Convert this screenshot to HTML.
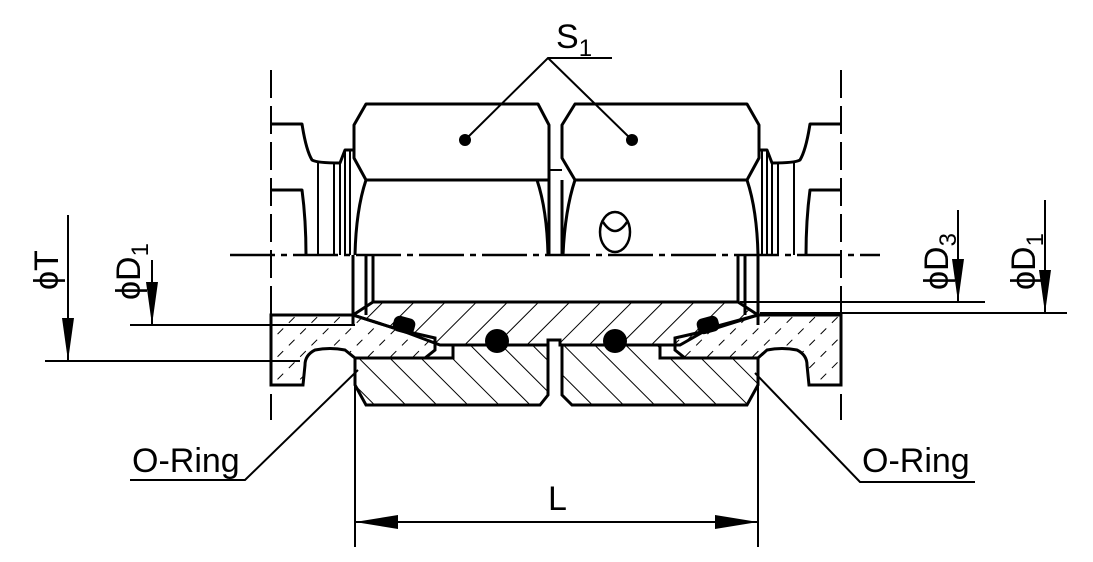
<!DOCTYPE html>
<html><head><style>body{margin:0;background:#fff}svg{display:block}text{font-family:"Liberation Sans",sans-serif}</style></head><body>
<svg width="1093" height="562" viewBox="0 0 1093 562" xmlns="http://www.w3.org/2000/svg">
<defs>
<pattern id="h1" patternUnits="userSpaceOnUse" width="22" height="22" patternTransform="rotate(45)"><line x1="0" y1="0" x2="0" y2="22" stroke="#000" stroke-width="2"/></pattern>
<pattern id="h2" patternUnits="userSpaceOnUse" width="22" height="22" patternTransform="rotate(-45)"><line x1="0" y1="0" x2="0" y2="22" stroke="#000" stroke-width="2"/></pattern>
<pattern id="h3" patternUnits="userSpaceOnUse" width="16" height="16" patternTransform="rotate(45)"><line x1="0" y1="0" x2="0" y2="8" stroke="#000" stroke-width="2"/></pattern>
</defs>
<g fill="none" stroke="#000" stroke-width="3" stroke-linejoin="round">
<line x1="271" y1="70" x2="271" y2="420" stroke-dasharray="28,8" stroke-width="2"/>
<line x1="841" y1="70" x2="841" y2="420" stroke-dasharray="28,8" stroke-width="2"/>
<line x1="230" y1="255" x2="880" y2="255" stroke-dasharray="45,6,6,6" stroke-width="2.5"/>
<path d="M366,104 L538,104 L549,125 L549,180 L537,180 L366,180 L354,158 L354,125 Z"/>
<path d="M366,180 Q356,210 355,255 M537,180 Q547,210 548,255"/>
<path d="M575,104 L747,104 L759,125 L759,158 L747,180 L575,180 L562,158 L562,125 Z"/>
<path d="M575,180 Q565,210 563,255 M747,180 Q757,210 758,255"/>
<line x1="549" y1="170" x2="562" y2="170" stroke-width="2"/>
<line x1="549" y1="180" x2="549" y2="255"/><line x1="562" y1="180" x2="562" y2="255"/>
<ellipse cx="615" cy="232" rx="15" ry="20" stroke-width="2.5"/>
<path d="M603,222 Q615,240 627,222" stroke-width="2.5"/>
<path d="M271,124 L302,124 Q306,150 312,160 Q317,163 340,163 L345,150 L353,150"/>
<path d="M271,190 L302,190 Q306,220 306,255"/>
<line x1="318" y1="163" x2="318" y2="255" stroke-width="2"/>
<line x1="334" y1="163" x2="334" y2="255" stroke-width="2"/>
<line x1="340" y1="163" x2="340" y2="255" stroke-width="2"/>
<line x1="345" y1="150" x2="345" y2="255" stroke-width="2"/>
<line x1="350" y1="150" x2="350" y2="255" stroke-width="2"/>
<path d="M841,124 L810,124 Q806,150 800,160 Q795,163 772,163 L767,150 L759,150"/>
<path d="M841,190 L810,190 Q806,220 806,255"/>
<line x1="794" y1="163" x2="794" y2="255" stroke-width="2"/>
<line x1="778" y1="163" x2="778" y2="255" stroke-width="2"/>
<line x1="772" y1="163" x2="772" y2="255" stroke-width="2"/>
<line x1="767" y1="150" x2="767" y2="255" stroke-width="2"/>
<line x1="762" y1="150" x2="762" y2="255" stroke-width="2"/>
<line x1="353" y1="255" x2="353" y2="325"/><line x1="366" y1="255" x2="366" y2="315"/><line x1="373" y1="255" x2="373" y2="302"/>
<line x1="758" y1="255" x2="758" y2="325"/><line x1="745" y1="255" x2="745" y2="315"/><line x1="738" y1="255" x2="738" y2="302"/>
</g>
<path d="M373,302 L738,302 L758,315 L710,328 L680,345 L560,345 L560,340 L548,340 L548,345 L440,345 L400,330 L353,315 Z" fill="url(#h1)" stroke="#000" stroke-width="3"/>
<path d="M355,358 L453,358 L453,345 L548,345 L548,395 L540,405 L366,405 L355,385 Z" fill="url(#h2)" stroke="#000" stroke-width="3"/>
<path d="M758,358 L660,358 L660,345 L562,345 L562,395 L572,405 L747,405 L758,385 Z" fill="url(#h2)" stroke="#000" stroke-width="3"/>
<path d="M271,315 L353,315 L400,330 L435,338 L435,350 L425,358 L355,358 L345,350 Q330,347 315,350 Q305,355 305,365 L303,385 L271,385 Z" fill="url(#h3)" stroke="#000" stroke-width="3"/>
<path d="M841,315 L758,315 L710,330 L675,338 L675,350 L685,358 L758,358 L767,350 Q782,347 797,350 Q807,355 807,365 L809,385 L841,385 Z" fill="url(#h3)" stroke="#000" stroke-width="3"/>
<circle cx="497" cy="341" r="12"/><circle cx="615" cy="341" r="12"/>
<rect x="393" y="317" width="22" height="16" rx="6" transform="rotate(15 404 325)"/>
<rect x="697" y="317" width="22" height="16" rx="6" transform="rotate(-15 708 325)"/>
<circle cx="465" cy="140" r="6"/><circle cx="632" cy="140" r="6"/>
<g fill="none" stroke="#000" stroke-width="2">
<path d="M465,140 L548,58 L612,58 M548,58 L632,140"/>
<path d="M130,480 L245,480 L358,370"/>
<path d="M975,482 L860,482 L755,373"/>
<line x1="355" y1="380" x2="355" y2="547"/><line x1="758" y1="380" x2="758" y2="547"/>
<line x1="355" y1="522" x2="758" y2="522"/>
<line x1="45" y1="361" x2="300" y2="361"/><line x1="68" y1="215" x2="68" y2="361"/>
<line x1="130" y1="325" x2="355" y2="325"/><line x1="152" y1="260" x2="152" y2="325"/>
<line x1="740" y1="302" x2="985" y2="302"/><line x1="958" y1="210" x2="958" y2="302"/>
<line x1="760" y1="313" x2="1067" y2="313"/><line x1="1045" y1="200" x2="1045" y2="313"/>
</g>
<g fill="#000">
<path d="M355,522 L398,515 L398,529Z"/><path d="M758,522 L715,515 L715,529Z"/>
<path d="M68,361 L62,318 L74,318Z"/><path d="M152,325 L146,282 L158,282Z"/>
<path d="M958,302 L952,259 L964,259Z"/><path d="M1045,313 L1039,270 L1051,270Z"/>
</g>
<g font-size="34" fill="#000">
<text x="556" y="48">S<tspan font-size="24" dy="8">1</tspan></text>
<text x="132" y="472">O-Ring</text>
<text x="862" y="472">O-Ring</text>
<text x="548" y="510">L</text>
<text transform="translate(58,290) rotate(-90)">ϕT</text>
<text transform="translate(140,300) rotate(-90)">ϕD<tspan font-size="24" dy="8">1</tspan></text>
<text transform="translate(948,290) rotate(-90)">ϕD<tspan font-size="24" dy="8">3</tspan></text>
<text transform="translate(1035,290) rotate(-90)">ϕD<tspan font-size="24" dy="8">1</tspan></text>
</g>
</svg>
</body></html>
